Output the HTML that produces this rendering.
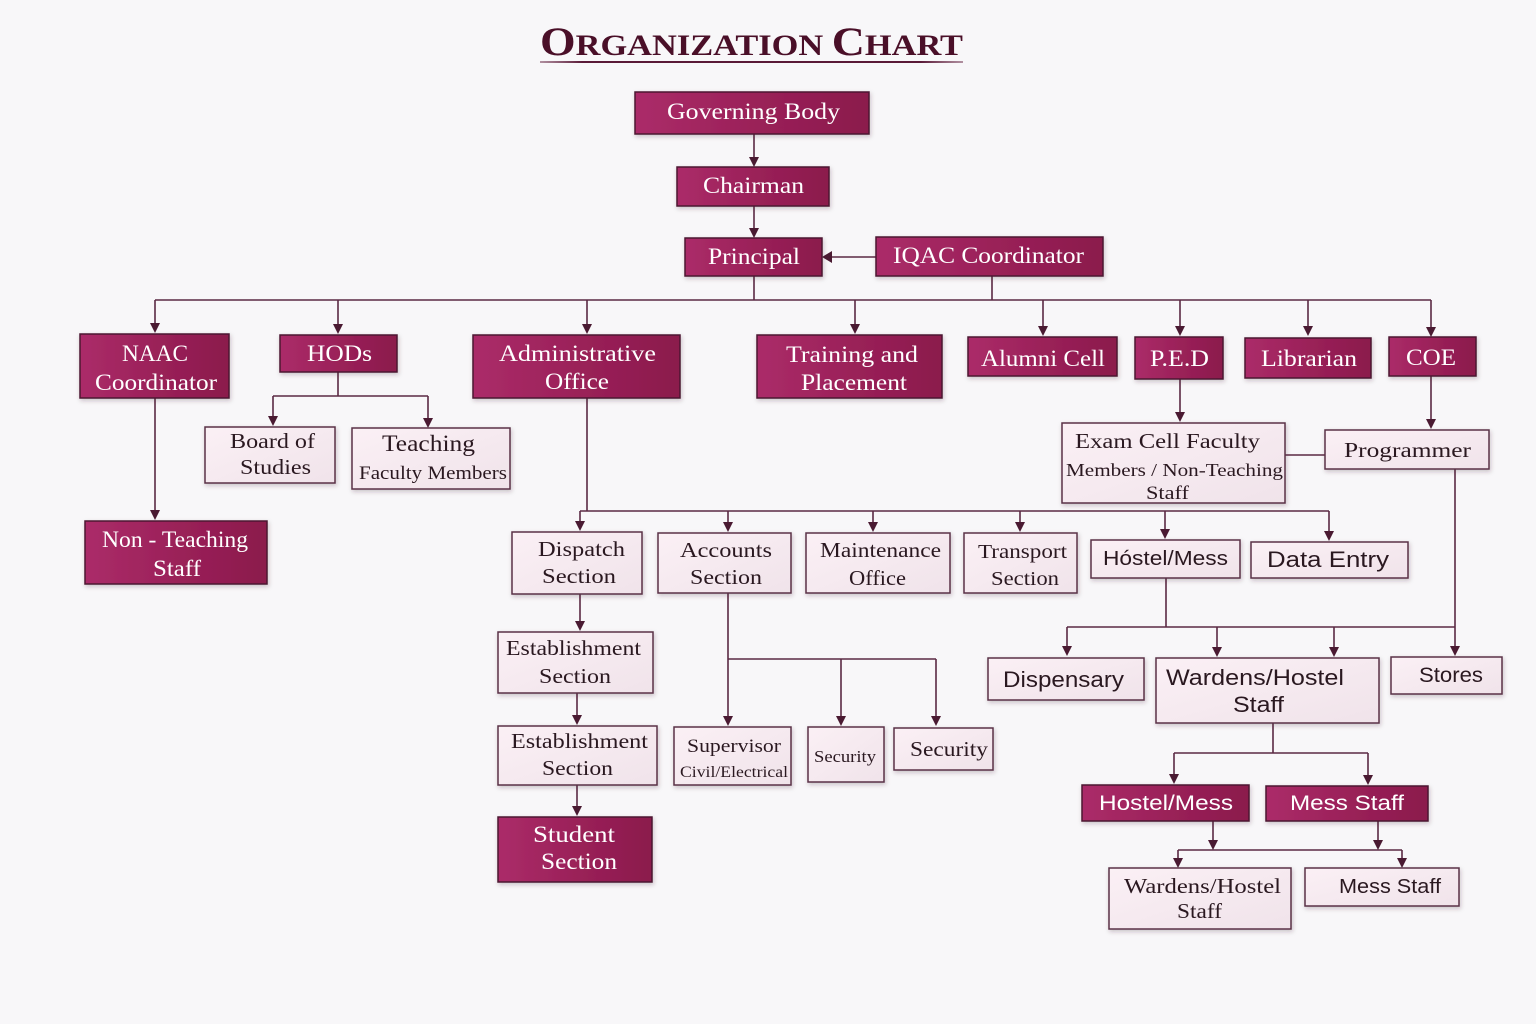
<!DOCTYPE html>
<html>
<head>
<meta charset="utf-8">
<style>
html,body{margin:0;padding:0;background:#f8f7f9;}
svg{display:block;}
</style>
</head>
<body>
<svg width="1536" height="1024" viewBox="0 0 1536 1024" xmlns="http://www.w3.org/2000/svg">
<defs>
  <linearGradient id="dk" x1="0" y1="0" x2="1" y2="0">
    <stop offset="0" stop-color="#ab2c69"/>
    <stop offset="0.5" stop-color="#9b2159"/>
    <stop offset="1" stop-color="#8b1a4c"/>
  </linearGradient>
  <linearGradient id="lt" x1="0" y1="0" x2="1" y2="1">
    <stop offset="0" stop-color="#fbf0f5"/>
    <stop offset="1" stop-color="#f0e3ea"/>
  </linearGradient>
  <linearGradient id="ul" x1="0" y1="0" x2="1" y2="0">
    <stop offset="0" stop-color="#6a2a48" stop-opacity="0.5"/>
    <stop offset="0.1" stop-color="#5a1a38"/>
    <stop offset="0.9" stop-color="#5a1a38"/>
    <stop offset="1" stop-color="#6a2a48" stop-opacity="0.5"/>
  </linearGradient>
  <filter id="sh" x="-10%" y="-10%" width="130%" height="140%">
    <feDropShadow dx="1" dy="2" stdDeviation="2" flood-color="#3a1a2a" flood-opacity="0.25"/>
  </filter>
</defs>
<rect width="1536" height="1024" fill="#f8f7f9"/>

<!-- Title -->
<text x="540" y="55" font-family="Liberation Serif, serif" font-weight="bold" fill="#4a0f28" textLength="423" lengthAdjust="spacingAndGlyphs"><tspan font-size="40">O</tspan><tspan font-size="30">RGANIZATION </tspan><tspan font-size="40">C</tspan><tspan font-size="30">HART</tspan></text>
<rect x="540" y="61" width="423" height="2" fill="url(#ul)"/>

<!-- Connectors -->
<g stroke="#5b2a44" stroke-width="1.6" fill="none">
  <path d="M754 134V158 M754 206V229 M876 257H831 M754 276V300 M992 276V300 M155 300H1431"/>
  <path d="M155 300V324 M338 300V325 M587 300V325 M855 300V325 M1043 300V327 M1180 300V327 M1308 300V327 M1431 300V328"/>
  <path d="M155 398V511"/>
  <path d="M338 372V396 M273 396H428 M273 396V417 M428 396V419"/>
  <path d="M587 398V511 M580 511H1329 M580 511V522 M728 511V523 M873 511V523 M1020 511V523 M1165 511V530 M1329 511V532"/>
  <path d="M1180 379V413 M1285 455H1325 M1431 376V420 M1455 469V647"/>
  <path d="M1166 578V627 M1067 627H1455 M1067 627V647 M1217 627V648 M1334 627V648"/>
  <path d="M580 594V622 M577 693V716 M577 785V807"/>
  <path d="M728 593V717 M728 659H936 M841 659V717 M936 659V717"/>
  <path d="M1273 723V753 M1174 753H1368 M1174 753V775 M1368 753V776"/>
  <path d="M1213 821V841 M1378 821V841 M1178 850H1402 M1178 850V859 M1402 850V859"/>
</g>
<g fill="#4a1a32">
  <!-- arrowheads: down -->
  <polygon points="749,157 759,157 754,167"/>
  <polygon points="749,228 759,228 754,238"/>
  <polygon points="832,251 832,263 822,257"/>
  <polygon points="150,323 160,323 155,333"/>
  <polygon points="333,324 343,324 338,334"/>
  <polygon points="582,324 592,324 587,334"/>
  <polygon points="850,324 860,324 855,334"/>
  <polygon points="1038,326 1048,326 1043,336"/>
  <polygon points="1175,326 1185,326 1180,336"/>
  <polygon points="1303,326 1313,326 1308,336"/>
  <polygon points="1426,327 1436,327 1431,337"/>
  <polygon points="150,510 160,510 155,520"/>
  <polygon points="268,416 278,416 273,426"/>
  <polygon points="423,418 433,418 428,428"/>
  <polygon points="575,521 585,521 580,531"/>
  <polygon points="723,522 733,522 728,532"/>
  <polygon points="868,522 878,522 873,532"/>
  <polygon points="1015,522 1025,522 1020,532"/>
  <polygon points="1160,529 1170,529 1165,539"/>
  <polygon points="1324,531 1334,531 1329,541"/>
  <polygon points="1175,412 1185,412 1180,422"/>
  <polygon points="1426,419 1436,419 1431,429"/>
  <polygon points="1450,646 1460,646 1455,656"/>
  <polygon points="1062,646 1072,646 1067,656"/>
  <polygon points="1212,647 1222,647 1217,657"/>
  <polygon points="1329,647 1339,647 1334,657"/>
  <polygon points="575,621 585,621 580,631"/>
  <polygon points="572,715 582,715 577,725"/>
  <polygon points="572,806 582,806 577,816"/>
  <polygon points="723,716 733,716 728,726"/>
  <polygon points="836,716 846,716 841,726"/>
  <polygon points="931,716 941,716 936,726"/>
  <polygon points="1169,774 1179,774 1174,784"/>
  <polygon points="1363,775 1373,775 1368,785"/>
  <polygon points="1208,840 1218,840 1213,850"/>
  <polygon points="1373,840 1383,840 1378,850"/>
  <polygon points="1173,858 1183,858 1178,868"/>
  <polygon points="1397,858 1407,858 1402,868"/>
</g>

<!-- Dark boxes -->
<g fill="url(#dk)" stroke="#4c1830" stroke-width="1.5" filter="url(#sh)">
  <rect x="635" y="92" width="234" height="42"/>
  <rect x="677" y="167" width="152" height="39"/>
  <rect x="685" y="238" width="137" height="38"/>
  <rect x="876" y="237" width="227" height="39"/>
  <rect x="80" y="334" width="149" height="64"/>
  <rect x="280" y="335" width="117" height="37"/>
  <rect x="473" y="335" width="207" height="63"/>
  <rect x="757" y="335" width="185" height="63"/>
  <rect x="968" y="337" width="149" height="39"/>
  <rect x="1135" y="337" width="88" height="42"/>
  <rect x="1245" y="338" width="126" height="40"/>
  <rect x="1389" y="337" width="87" height="39"/>
  <rect x="85" y="521" width="182" height="63"/>
  <rect x="498" y="817" width="154" height="65"/>
  <rect x="1082" y="785" width="167" height="36"/>
  <rect x="1266" y="786" width="162" height="35"/>
</g>

<!-- Light boxes -->
<g fill="url(#lt)" stroke="#5a3047" stroke-width="1.5" filter="url(#sh)">
  <rect x="205" y="427" width="130" height="56"/>
  <rect x="352" y="428" width="158" height="61"/>
  <rect x="1062" y="423" width="223" height="80"/>
  <rect x="1325" y="430" width="164" height="39"/>
  <rect x="512" y="532" width="130" height="62"/>
  <rect x="658" y="533" width="133" height="60"/>
  <rect x="806" y="533" width="144" height="60"/>
  <rect x="964" y="533" width="113" height="60"/>
  <rect x="1091" y="540" width="149" height="38"/>
  <rect x="1251" y="542" width="157" height="36"/>
  <rect x="498" y="632" width="155" height="61"/>
  <rect x="498" y="726" width="159" height="59"/>
  <rect x="674" y="727" width="117" height="58"/>
  <rect x="808" y="727" width="76" height="55"/>
  <rect x="894" y="728" width="99" height="42"/>
  <rect x="988" y="658" width="156" height="42"/>
  <rect x="1156" y="658" width="223" height="65"/>
  <rect x="1391" y="657" width="111" height="37"/>
  <rect x="1109" y="868" width="182" height="61"/>
  <rect x="1305" y="868" width="154" height="38"/>
</g>

<!-- Dark box text -->
<g font-family="Liberation Serif, serif" fill="#ffffff" font-size="23" lengthAdjust="spacingAndGlyphs">
  <text x="667" y="119" textLength="173" lengthAdjust="spacingAndGlyphs">Governing Body</text>
  <text x="703" y="193" textLength="101" lengthAdjust="spacingAndGlyphs">Chairman</text>
  <text x="708" y="264" textLength="92" lengthAdjust="spacingAndGlyphs">Principal</text>
  <text x="893" y="263" textLength="191" lengthAdjust="spacingAndGlyphs">IQAC Coordinator</text>
  <text x="122" y="361" textLength="66" lengthAdjust="spacingAndGlyphs">NAAC</text>
  <text x="95" y="390" textLength="122" lengthAdjust="spacingAndGlyphs">Coordinator</text>
  <text x="307" y="361" textLength="65" lengthAdjust="spacingAndGlyphs">HODs</text>
  <text x="499" y="361" textLength="157" lengthAdjust="spacingAndGlyphs">Administrative</text>
  <text x="545" y="389" textLength="64" lengthAdjust="spacingAndGlyphs">Office</text>
  <text x="786" y="362" textLength="132" lengthAdjust="spacingAndGlyphs">Training and</text>
  <text x="801" y="390" textLength="106" lengthAdjust="spacingAndGlyphs">Placement</text>
  <text x="981" y="366" textLength="124" lengthAdjust="spacingAndGlyphs">Alumni Cell</text>
  <text x="1150" y="366" textLength="59" lengthAdjust="spacingAndGlyphs">P.E.D</text>
  <text x="1261" y="366" textLength="96" lengthAdjust="spacingAndGlyphs">Librarian</text>
  <text x="1406" y="365" textLength="50" lengthAdjust="spacingAndGlyphs">COE</text>
  <text x="102" y="547" textLength="146" lengthAdjust="spacingAndGlyphs">Non - Teaching</text>
  <text x="153" y="576" textLength="48" lengthAdjust="spacingAndGlyphs">Staff</text>
  <text x="533" y="842" textLength="82" lengthAdjust="spacingAndGlyphs">Student</text>
  <text x="541" y="869" textLength="76" lengthAdjust="spacingAndGlyphs">Section</text>
  <text x="1099" y="810" textLength="134" lengthAdjust="spacingAndGlyphs" font-family="Liberation Sans, sans-serif" font-size="21">Hostel/Mess</text>
  <text x="1290" y="810" textLength="114" lengthAdjust="spacingAndGlyphs" font-family="Liberation Sans, sans-serif" font-size="21">Mess Staff</text>
</g>

<!-- Light box text -->
<g font-family="Liberation Serif, serif" fill="#2a1820" font-size="21">
  <text x="230" y="448" textLength="85" lengthAdjust="spacingAndGlyphs">Board of</text>
  <text x="240" y="474" textLength="71" lengthAdjust="spacingAndGlyphs">Studies</text>
  <text x="382" y="451" font-size="23" textLength="93" lengthAdjust="spacingAndGlyphs">Teaching</text>
  <text x="359" y="479" font-size="19" textLength="148" lengthAdjust="spacingAndGlyphs">Faculty Members</text>
  <text x="1075" y="448" textLength="185" lengthAdjust="spacingAndGlyphs">Exam Cell Faculty</text>
  <text x="1066" y="476" font-size="18" textLength="217" lengthAdjust="spacingAndGlyphs">Members / Non-Teaching</text>
  <text x="1146" y="499" font-size="19" textLength="43" lengthAdjust="spacingAndGlyphs">Staff</text>
  <text x="1344" y="457" textLength="127" lengthAdjust="spacingAndGlyphs">Programmer</text>
  <text x="538" y="556" textLength="87" lengthAdjust="spacingAndGlyphs">Dispatch</text>
  <text x="542" y="583" textLength="74" lengthAdjust="spacingAndGlyphs">Section</text>
  <text x="680" y="557" textLength="92" lengthAdjust="spacingAndGlyphs">Accounts</text>
  <text x="690" y="584" textLength="72" lengthAdjust="spacingAndGlyphs">Section</text>
  <text x="820" y="557" textLength="121" lengthAdjust="spacingAndGlyphs">Maintenance</text>
  <text x="849" y="585" textLength="57" lengthAdjust="spacingAndGlyphs">Office</text>
  <text x="978" y="558" font-size="20" textLength="89" lengthAdjust="spacingAndGlyphs">Transport</text>
  <text x="991" y="585" font-size="20" textLength="68" lengthAdjust="spacingAndGlyphs">Section</text>
  <text x="1103" y="565" font-family="Liberation Sans, sans-serif" font-size="20" textLength="125" lengthAdjust="spacingAndGlyphs">Hóstel/Mess</text>
  <text x="1267" y="567" font-family="Liberation Sans, sans-serif" font-size="22" textLength="122" lengthAdjust="spacingAndGlyphs">Data Entry</text>
  <text x="506" y="655" textLength="135" lengthAdjust="spacingAndGlyphs">Establishment</text>
  <text x="539" y="683" textLength="72" lengthAdjust="spacingAndGlyphs">Section</text>
  <text x="511" y="748" textLength="137" lengthAdjust="spacingAndGlyphs">Establishment</text>
  <text x="542" y="775" textLength="71" lengthAdjust="spacingAndGlyphs">Section</text>
  <text x="687" y="752" font-size="19" textLength="94" lengthAdjust="spacingAndGlyphs">Supervisor</text>
  <text x="680" y="777" font-size="16" textLength="108" lengthAdjust="spacingAndGlyphs">Civil/Electrical</text>
  <text x="814" y="762" font-size="17" textLength="62" lengthAdjust="spacingAndGlyphs">Security</text>
  <text x="910" y="756" textLength="78" lengthAdjust="spacingAndGlyphs">Security</text>
  <text x="1003" y="687" font-family="Liberation Sans, sans-serif" font-size="22" textLength="121" lengthAdjust="spacingAndGlyphs">Dispensary</text>
  <text x="1166" y="685" font-family="Liberation Sans, sans-serif" font-size="22" textLength="178" lengthAdjust="spacingAndGlyphs">Wardens/Hostel</text>
  <text x="1233" y="712" font-family="Liberation Sans, sans-serif" font-size="22" textLength="51" lengthAdjust="spacingAndGlyphs">Staff</text>
  <text x="1419" y="682" font-family="Liberation Sans, sans-serif" font-size="21" textLength="64" lengthAdjust="spacingAndGlyphs">Stores</text>
  <text x="1124" y="893" textLength="157" lengthAdjust="spacingAndGlyphs">Wardens/Hostel</text>
  <text x="1177" y="918" textLength="45" lengthAdjust="spacingAndGlyphs">Staff</text>
  <text x="1339" y="893" font-family="Liberation Sans, sans-serif" font-size="20" textLength="102" lengthAdjust="spacingAndGlyphs">Mess Staff</text>
</g>
</svg>
</body>
</html>
